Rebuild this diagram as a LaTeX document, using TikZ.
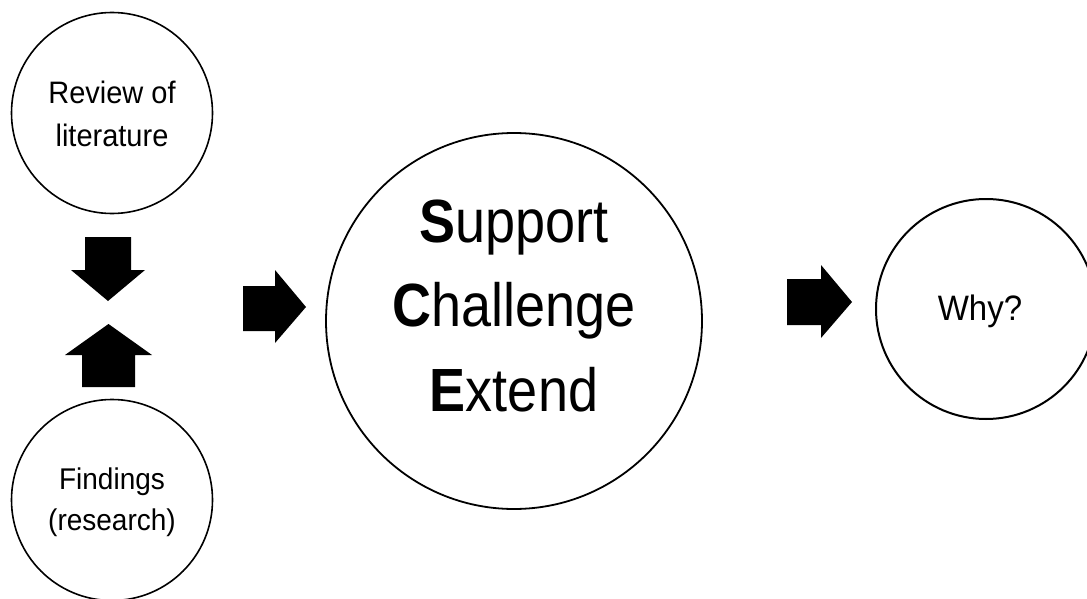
\documentclass[tikz,border=0pt]{standalone}
\usepackage{fontspec}
\setmainfont{Liberation Sans}
\begin{document}
\begin{tikzpicture}[x=1pt,y=-1pt,
  ring/.style={draw=black,circle,line width=1.6pt,inner sep=0pt},
  lbl/.style={inner sep=0pt,text=black},
  blockarrow/.style={fill=black}]
\useasboundingbox (0,0) rectangle (1087,599);
\fill[white] (0,0) rectangle (1087,599);
% circles
\node[ring,minimum size=201pt] (rev) at (112,113) {};
\node[ring,minimum size=201pt] (fin) at (112,500) {};
\node[ring,minimum size=376pt,line width=1.8pt] (sce) at (514,321) {};
\node[ring,minimum size=220pt,line width=2pt] (why) at (986,309) {};
% labels
\node[lbl] (revt) at (112,116) {\scalebox{1}[1.07]{\fontsize{29}{40.2}\selectfont\begin{tabular}{@{}c@{}}Review of\\literature\end{tabular}}};
\node[lbl] (fint) at (112,502) {\scalebox{1}[1.07]{\fontsize{28}{37.4}\selectfont\begin{tabular}{@{}c@{}}Findings\\(research)\end{tabular}}};
\node[lbl] (scet) at (514,310) {\scalebox{1}[1.13]{\fontsize{54}{75}\selectfont\begin{tabular}{@{}c@{}}\textbf{S}upport\\\textbf{C}hallenge\\\textbf{E}xtend\end{tabular}}};
\node[lbl] (whyt) at (980,311) {\scalebox{1}[1.07]{\fontsize{33}{40}\selectfont Why?}};
% block arrows
\fill[blockarrow] (85,237) -- (131,237) -- (131,270) -- (145,270) -- (108,301) -- (71,270) -- (85,270) -- cycle;
\fill[blockarrow] (82,387) -- (135,387) -- (135,355) -- (152,355) -- (108.5,324) -- (65,355) -- (82,355) -- cycle;
\fill[blockarrow] (243,286) -- (275,286) -- (275,270) -- (306,307) -- (275,343) -- (275,331) -- (243,331) -- cycle;
\fill[blockarrow] (787,279) -- (821,279) -- (821,265) -- (852,302) -- (821,338) -- (821,325) -- (787,325) -- cycle;
\end{tikzpicture}
\end{document}
